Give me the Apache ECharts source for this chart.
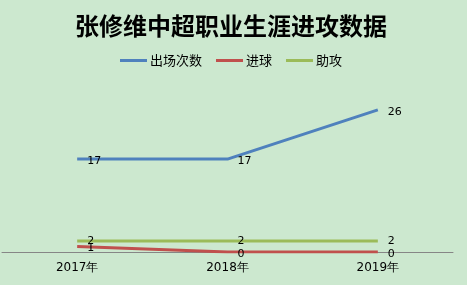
<!DOCTYPE html>
<html><head><meta charset="utf-8">
<script src="https://cdn.jsdelivr.net/npm/echarts@6/dist/echarts.min.js"></script>
<style>html,body{margin:0;padding:0;background:#cce8cf;}#c{width:467px;height:285px;}</style>
</head><body><div id="c"></div>
<script>
const categories = ['2017年', '2018年', '2019年'];
const appearances = [17, 17, 26];
const goals = [1, 0, 0];
const assists = [2, 2, 2];
const seriesNames = ['出场次数', '进球', '助攻'];

const chart = echarts.init(document.getElementById('c'));
const lbl = {show: true, position: 'right', distance: 10, offset: [0, 2], color: '#000', fontSize: 11, fontFamily: 'DejaVu Sans'};
const base = {type: 'line', symbol: 'circle', symbolSize: 0.01, showSymbol: true};
chart.setOption({
  backgroundColor: '#cce8cf',
  animation: false,
  title: {text: '张修维中超职业生涯进攻数据', left: 70, top: 9,
    textStyle: {fontFamily: 'Noto Sans CJK SC', fontWeight: 'bold', fontSize: 24, color: '#000'}},
  legend: {top: 49, left: 115, itemWidth: 27, itemHeight: 3, itemGap: 14,
    textStyle: {fontFamily: 'Noto Sans CJK SC', fontSize: 13, color: '#000', padding: [0, 0, 0, -2]},
    data: seriesNames.map(n => ({name: n, icon: 'rect'}))},
  grid: {left: 2, right: 14, top: 88, bottom: 33},
  xAxis: {type: 'category', data: categories, boundaryGap: true,
    axisLine: {lineStyle: {color: '#868686', width: 1}}, axisTick: {show: false},
    axisLabel: {color: '#000', fontSize: 12, fontFamily: 'DejaVu Sans', margin: 10}},
  yAxis: {type: 'value', min: 0, max: 30, show: false, splitLine: {show: false}},
  series: [
    Object.assign({}, base, {name: seriesNames[0], data: appearances,
      lineStyle: {width: 3, color: '#4f81bd'}, itemStyle: {color: '#4f81bd'}, label: lbl}),
    Object.assign({}, base, {name: seriesNames[1], data: goals,
      lineStyle: {width: 3, color: '#c0504d'}, itemStyle: {color: '#c0504d'}, label: Object.assign({}, lbl, {offset: [0, 2]})}),
    Object.assign({}, base, {name: seriesNames[2], data: assists,
      lineStyle: {width: 3, color: '#9bbb59'}, itemStyle: {color: '#9bbb59'}, label: Object.assign({}, lbl, {offset: [0, 0]})})
  ]
});
</script></body></html>
